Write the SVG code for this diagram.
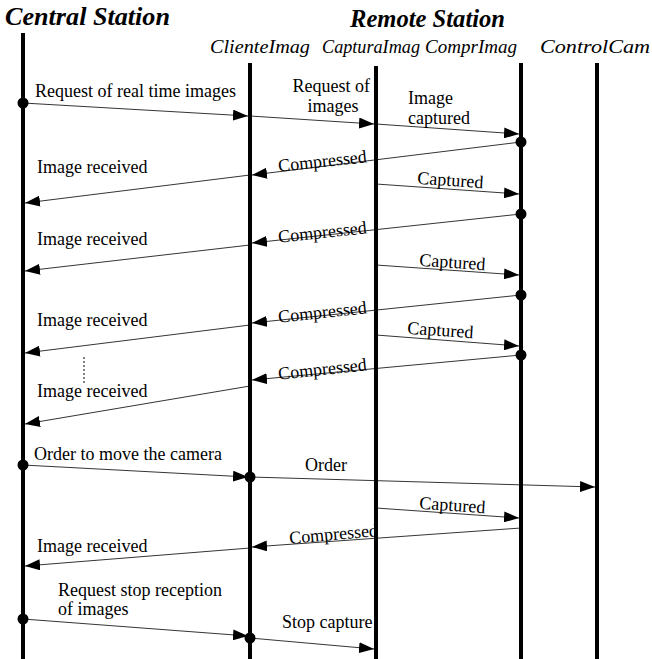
<svg xmlns="http://www.w3.org/2000/svg" width="652" height="659" viewBox="0 0 652 659">
<style>
.title{font-family:"Liberation Serif","Times New Roman","DejaVu Serif",serif;font-weight:bold;font-style:italic;font-size:26px;fill:#000}
.obj{font-family:"Liberation Serif","Times New Roman","DejaVu Serif",serif;font-style:italic;font-size:19px;fill:#000}
.lbl{font-family:"Liberation Serif","Times New Roman","DejaVu Serif",serif;font-size:18px;fill:#000}
.life{stroke:#000;stroke-width:4;fill:none}
.msg{stroke:#000;stroke-width:0.8;fill:none;marker-end:url(#ah)}
.dot{fill:#000}
</style>
<defs>
<marker id="ah" markerUnits="userSpaceOnUse" markerWidth="15" markerHeight="11" refX="15" refY="5.5" orient="auto">
<path d="M0,0 L15,5.5 L0,11 z" fill="#000"/>
</marker>
</defs>
<rect width="652" height="659" fill="#fff"/>
<text class="title" x="5" y="25" textLength="165" lengthAdjust="spacingAndGlyphs">Central Station</text>
<text class="title" x="350" y="27" textLength="155" lengthAdjust="spacingAndGlyphs">Remote Station</text>
<g id="central"><line class="life" x1="23" y1="33" x2="23" y2="659"/></g>
<g id="clienteimag"><text class="obj" x="210" y="53" textLength="100" lengthAdjust="spacingAndGlyphs">ClienteImag</text><line class="life" x1="250" y1="63" x2="250" y2="659"/></g>
<g id="capturaimag"><text class="obj" x="322" y="53" textLength="98" lengthAdjust="spacingAndGlyphs">CapturaImag</text><line class="life" x1="376" y1="66" x2="376" y2="659"/></g>
<g id="comprimag"><text class="obj" x="425" y="53" textLength="92" lengthAdjust="spacingAndGlyphs">ComprImag</text><line class="life" x1="521" y1="63" x2="521" y2="659"/></g>
<g id="controlcam"><text class="obj" x="540" y="53" textLength="110" lengthAdjust="spacingAndGlyphs">ControlCam</text><line class="life" x1="597" y1="63" x2="597" y2="659"/></g>
<g id="connectors">
<circle class="dot" cx="23" cy="103" r="5.5"/>
<line class="msg" x1="23" y1="103" x2="248" y2="116"/>
<line class="msg" x1="250" y1="116" x2="374" y2="124"/>
<line class="msg" x1="376" y1="124" x2="519" y2="134"/>
<circle class="dot" cx="521" cy="142" r="5.5"/>
<line class="msg" x1="521" y1="142" x2="252" y2="175"/>
<line class="msg" x1="250" y1="175" x2="25" y2="203"/>
<line class="msg" x1="376" y1="184" x2="519" y2="194"/>
<circle class="dot" cx="521" cy="214" r="5.5"/>
<line class="msg" x1="521" y1="214" x2="252" y2="243"/>
<line class="msg" x1="250" y1="245" x2="25" y2="271"/>
<line class="msg" x1="376" y1="265" x2="519" y2="275"/>
<circle class="dot" cx="521" cy="295" r="5.5"/>
<line class="msg" x1="521" y1="295" x2="252" y2="323"/>
<line class="msg" x1="250" y1="325" x2="25" y2="353"/>
<line class="msg" x1="376" y1="335" x2="519" y2="346"/>
<circle class="dot" cx="521" cy="355" r="5.5"/>
<line class="msg" x1="521" y1="355" x2="252" y2="380"/>
<line class="msg" x1="250" y1="386" x2="25" y2="424"/>
<line x1="84" y1="357" x2="84" y2="383" stroke="#000" stroke-width="1" stroke-dasharray="2,2"/>
<circle class="dot" cx="23" cy="465" r="5.5"/>
<line class="msg" x1="23" y1="465" x2="248" y2="477"/>
<circle class="dot" cx="250" cy="477" r="5.5"/>
<line class="msg" x1="250" y1="477" x2="595" y2="487"/>
<line class="msg" x1="376" y1="508" x2="519" y2="518"/>
<line class="msg" x1="521" y1="528" x2="252" y2="547"/>
<line class="msg" x1="250" y1="548" x2="25" y2="566"/>
<circle class="dot" cx="23" cy="619" r="5.5"/>
<line class="msg" x1="23" y1="619" x2="248" y2="636"/>
<circle class="dot" cx="250" cy="638" r="5.5"/>
<line class="msg" x1="250" y1="638" x2="374" y2="649"/>
</g>
<g id="labels">
<text class="lbl" x="35" y="97">Request of real time images</text>
<text class="lbl" x="370" y="92" text-anchor="end">Request of</text>
<text class="lbl" x="333" y="112" text-anchor="middle">images</text>
<text class="lbl" x="408" y="104">Image</text>
<text class="lbl" x="408" y="124">captured</text>
<text class="lbl" x="323" y="167" text-anchor="middle" transform="rotate(-6 323 167)">Compressed</text>
<text class="lbl" x="37" y="173">Image received</text>
<text class="lbl" x="450" y="186" text-anchor="middle" transform="rotate(4 450 186)">Captured</text>
<text class="lbl" x="323" y="238" text-anchor="middle" transform="rotate(-6 323 238)">Compressed</text>
<text class="lbl" x="37" y="245">Image received</text>
<text class="lbl" x="452" y="268" text-anchor="middle" transform="rotate(4 452 268)">Captured</text>
<text class="lbl" x="323" y="318" text-anchor="middle" transform="rotate(-6 323 318)">Compressed</text>
<text class="lbl" x="37" y="326">Image received</text>
<text class="lbl" x="440" y="336" text-anchor="middle" transform="rotate(4 440 336)">Captured</text>
<text class="lbl" x="323" y="375" text-anchor="middle" transform="rotate(-6 323 375)">Compressed</text>
<text class="lbl" x="37" y="397">Image received</text>
<text class="lbl" x="34" y="460">Order to move the camera</text>
<text class="lbl" x="305" y="471">Order</text>
<text class="lbl" x="452" y="511" text-anchor="middle" transform="rotate(4 452 511)">Captured</text>
<text class="lbl" x="334" y="540" text-anchor="middle" transform="rotate(-5 334 540)">Compressed</text>
<text class="lbl" x="37" y="552">Image received</text>
<text class="lbl" x="58" y="596">Request stop reception</text>
<text class="lbl" x="58" y="615">of images</text>
<text class="lbl" x="282" y="628">Stop capture</text>
</g>
</svg>
